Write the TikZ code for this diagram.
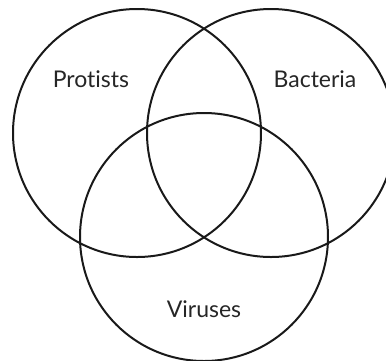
\documentclass[tikz,border=0pt]{standalone}
\usepackage{fontspec}
\setmainfont{Lato}[Ligatures=NoCommon]
\usepackage{xcolor}
\usepackage{tikz}
\usetikzlibrary{positioning}

\begin{document}
\begin{tikzpicture}[x=1pt, y=-1pt, line width=2pt,
    setname/.style={anchor=base, text=black!85, font=\fontsize{23}{27}\selectfont}]
  \useasboundingbox (0,0) rectangle (386,360);
  \clip (0,0) rectangle (386,360);
  \def\venn#1{\draw[black!90] (#1) circle[radius=124pt];}
  \coordinate (protists) at (137,133);
  \coordinate (bacteria) at (271,133);
  \coordinate (viruses)  at (204,237);
  \venn{protists}
  \venn{bacteria}
  \venn{viruses}
  \node[setname] (lprotists) at (91,87)  {Protists};
  \node[setname] (lbacteria) at (315,87) {Bacteria};
  \node[setname] (lviruses)  at (204,317) {Viruses};
\end{tikzpicture}
\end{document}
